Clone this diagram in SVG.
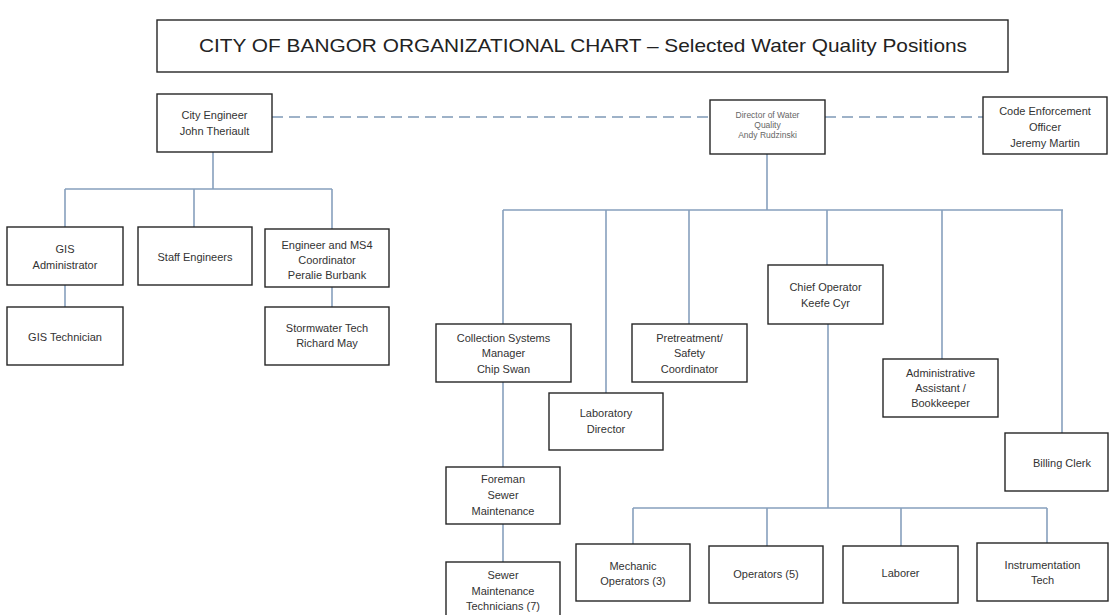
<svg xmlns="http://www.w3.org/2000/svg" width="1110" height="615" viewBox="0 0 1110 615">
<style>
.box{fill:#fff;stroke:#262626;stroke-width:1.4}
.t{font-family:"Liberation Sans",Arial,sans-serif;font-size:11px;fill:#333;text-anchor:middle}
.s{font-family:"Liberation Sans",Arial,sans-serif;font-size:8.5px;fill:#666;text-anchor:middle}
.ln{fill:none;stroke:#87a0bd;stroke-width:1.6}
.dash{fill:none;stroke:#7f99b6;stroke-width:1.6;stroke-dasharray:11 6}
</style>
<rect width="1110" height="615" fill="#fff"/>
<g id="title">
<rect class="box" x="157" y="20" width="851" height="52"/>
<text x="583" y="52" font-family="'Liberation Sans',Arial,sans-serif" font-size="18.5" fill="#222" text-anchor="middle" textLength="768" lengthAdjust="spacingAndGlyphs">CITY OF BANGOR ORGANIZATIONAL CHART – Selected Water Quality Positions</text>
</g>
<g id="connectors">
<path class="dash" d="M272 117H710M825 117H983"/>
<path class="ln" d="M213 152V189M65 189H332M65 189V227M194 189V227M332 189V229M65 285V307M332 287V307"/>
<path class="ln" d="M767 154V210M503 210H1063M503 210V324M606 210V393M689 210V324M827 210V265M942 210V359M1062 210V433"/>
<path class="ln" d="M503 382V467M503 524V562"/>
<path class="ln" d="M828 324V508M633 508H1047M633 508V544M767 508V546M901 508V546M1047 508V543"/>
</g>
<g id="city-engineer"><rect class="box" x="157" y="94" width="115" height="58"/><text class="t" x="214.5" y="119">City Engineer</text><text class="t" x="214.5" y="135">John Theriault</text></g>
<g id="gis-admin"><rect class="box" x="7" y="227" width="116" height="58"/><text class="t" x="65" y="253">GIS</text><text class="t" x="65" y="269">Administrator</text></g>
<g id="staff-engineers"><rect class="box" x="138" y="227" width="114" height="58"/><text class="t" x="195" y="261">Staff Engineers</text></g>
<g id="ms4"><rect class="box" x="265" y="229" width="124" height="58"/><text class="t" x="327" y="249">Engineer and MS4</text><text class="t" x="327" y="264">Coordinator</text><text class="t" x="327" y="279">Peralie Burbank</text></g>
<g id="gis-tech"><rect class="box" x="7" y="307" width="116" height="58"/><text class="t" x="65" y="341">GIS Technician</text></g>
<g id="stormwater"><rect class="box" x="265" y="307" width="124" height="58"/><text class="t" x="327" y="332">Stormwater Tech</text><text class="t" x="327" y="347">Richard May</text></g>
<g id="director"><rect class="box" x="710" y="100" width="115" height="54"/><text class="s" x="767.5" y="118">Director of Water</text><text class="s" x="767.5" y="128">Quality</text><text class="s" x="767.5" y="138">Andy Rudzinski</text></g>
<g id="code-enforcement"><rect class="box" x="983" y="97" width="124" height="57"/><text class="t" x="1045" y="115">Code Enforcement</text><text class="t" x="1045" y="131">Officer</text><text class="t" x="1045" y="147">Jeremy Martin</text></g>
<g id="collection"><rect class="box" x="436" y="324" width="135" height="58"/><text class="t" x="503.5" y="342">Collection Systems</text><text class="t" x="503.5" y="357">Manager</text><text class="t" x="503.5" y="373">Chip Swan</text></g>
<g id="pretreatment"><rect class="box" x="632" y="324" width="115" height="58"/><text class="t" x="689.5" y="342">Pretreatment/</text><text class="t" x="689.5" y="357">Safety</text><text class="t" x="689.5" y="373">Coordinator</text></g>
<g id="lab"><rect class="box" x="549" y="393" width="114" height="57"/><text class="t" x="606" y="417">Laboratory</text><text class="t" x="606" y="433">Director</text></g>
<g id="chief"><rect class="box" x="768" y="265" width="115" height="59"/><text class="t" x="825.5" y="291">Chief Operator</text><text class="t" x="825.5" y="307">Keefe Cyr</text></g>
<g id="admin"><rect class="box" x="883" y="359" width="115" height="58"/><text class="t" x="940.5" y="377">Administrative</text><text class="t" x="940.5" y="392">Assistant /</text><text class="t" x="940.5" y="407">Bookkeeper</text></g>
<g id="billing"><rect class="box" x="1005" y="433" width="103" height="58"/><text class="t" x="1062" y="467">Billing Clerk</text></g>
<g id="foreman"><rect class="box" x="446" y="467" width="114" height="57"/><text class="t" x="503" y="483">Foreman</text><text class="t" x="503" y="499">Sewer</text><text class="t" x="503" y="515">Maintenance</text></g>
<g id="sewer-techs"><rect class="box" x="446" y="562" width="114" height="60"/><text class="t" x="503" y="579">Sewer</text><text class="t" x="503" y="595">Maintenance</text><text class="t" x="503" y="610">Technicians (7)</text></g>
<g id="mechanic"><rect class="box" x="576" y="544" width="114" height="57"/><text class="t" x="633" y="570">Mechanic</text><text class="t" x="633" y="585">Operators (3)</text></g>
<g id="operators"><rect class="box" x="709" y="546" width="114" height="57"/><text class="t" x="766" y="578">Operators (5)</text></g>
<g id="laborer"><rect class="box" x="843" y="546" width="115" height="57"/><text class="t" x="900.5" y="577">Laborer</text></g>
<g id="instrumentation"><rect class="box" x="977" y="543" width="131" height="58"/><text class="t" x="1042.5" y="569">Instrumentation</text><text class="t" x="1042.5" y="584">Tech</text></g>
</svg>
